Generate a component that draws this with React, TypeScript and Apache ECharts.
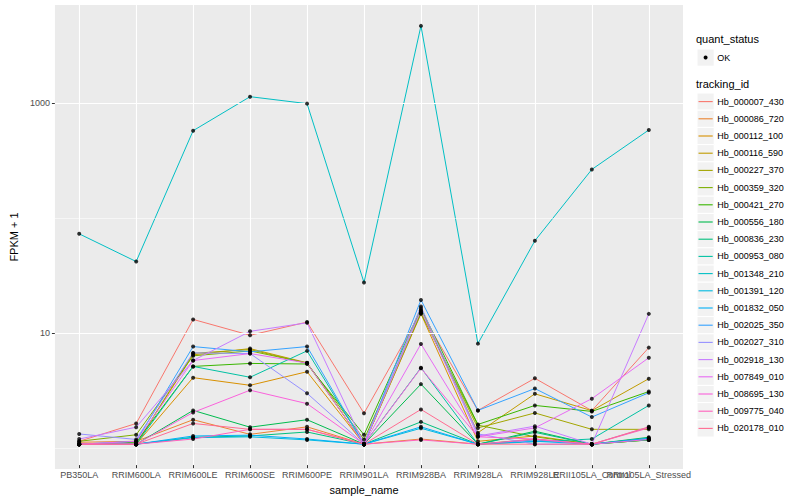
import React, { useEffect, useRef } from "react";
import * as echarts from "echarts";

const samples = [
  "PB350LA", "RRIM600LA", "RRIM600LE", "RRIM600SE", "RRIM600PE", "RRIM901LA",
  "RRIM928BA", "RRIM928LA", "RRIM928LE", "RRII105LA_Control", "RRII105LA_Stressed",
];

const trackingIds = [
  "Hb_000007_430", "Hb_000086_720", "Hb_000112_100", "Hb_000116_590", "Hb_000227_370",
  "Hb_000359_320", "Hb_000421_270", "Hb_000556_180", "Hb_000836_230", "Hb_000953_080",
  "Hb_001348_210", "Hb_001391_120", "Hb_001832_050", "Hb_002025_350", "Hb_002027_310",
  "Hb_002918_130", "Hb_007849_010", "Hb_008695_130", "Hb_009775_040", "Hb_020178_010",
];

const colors = [
  "#F8766D", "#EA8331", "#D89000", "#C09B00", "#A3A500",
  "#7CAE00", "#39B600", "#00BB4E", "#00BF7D", "#00C1A3",
  "#00BFC4", "#00BAE0", "#00B0F6", "#35A2FF", "#9590FF",
  "#C77CFF", "#E76BF3", "#FA62DB", "#FF62BC", "#FF6C91",
];

// FPKM + 1 per sample (same order as samples)
const hb000007 = [1.06, 1.52, 12.47, 9.05, 11.81, 1.87, 14.44, 1.98, 3.79, 1.97, 7.05];
const hb000086 = [1.04, 1.06, 1.64, 1.22, 1.42, 1.0, 1.11, 1.0, 1.11, 1.0, 1.13];
const hb000112 = [1.0, 1.0, 3.84, 3.29, 4.33, 1.0, 13.95, 1.06, 1.18, 1.0, 1.09];
const hb000116 = [1.0, 1.0, 6.09, 6.91, 5.19, 1.0, 14.94, 1.26, 2.77, 1.97, 3.76];
const hb000227 = [1.0, 1.0, 6.28, 6.78, 5.14, 1.0, 14.29, 1.39, 1.88, 1.35, 1.35];
const hb000359 = [1.06, 1.21, 5.97, 6.6, 5.16, 1.1, 14.15, 1.47, 1.16, 1.0, 1.09];
const hb000421 = [1.0, 1.04, 4.82, 5.12, 5.06, 1.21, 15.64, 1.49, 2.19, 1.94, 2.9];
const hb000556 = [1.0, 1.0, 1.98, 1.41, 1.64, 1.0, 3.37, 1.0, 1.3, 1.0, 1.15];
const hb000836 = [1.0, 1.0, 1.15, 1.18, 1.28, 1.0, 1.57, 1.0, 1.27, 1.0, 1.09];
const hb000953 = [1.0, 1.0, 4.82, 3.87, 6.6, 1.0, 4.69, 1.0, 1.05, 1.11, 2.19];
const hb001348 = [70.4, 40.2, 567, 1128, 980, 26.3, 4722, 7.64, 61.2, 259, 575];
const hb001391 = [1.0, 1.0, 1.14, 1.16, 1.09, 1.0, 1.38, 1.0, 1.09, 1.0, 1.11];
const hb001832 = [1.0, 1.0, 1.18, 1.2, 1.11, 1.0, 1.42, 1.0, 1.06, 1.0, 1.13];
const hb002025 = [1.0, 1.06, 7.2, 6.47, 7.2, 1.0, 18.48, 1.98, 3.08, 1.73, 2.83];
const hb002027 = [1.23, 1.1, 6.34, 6.25, 2.8, 1.0, 16.18, 1.23, 1.0, 1.0, 1.41];
const hb002918 = [1.11, 1.41, 5.43, 9.8, 11.65, 1.0, 14.94, 1.18, 1.44, 1.0, 13.95];
const hb007849 = [1.0, 1.06, 5.43, 6.25, 5.16, 1.0, 7.6, 1.16, 1.39, 2.51, 5.74];
const hb008695 = [1.0, 1.0, 1.9, 2.98, 2.27, 1.0, 4.65, 1.16, 1.11, 1.0, 1.1];
const hb009775 = [1.0, 1.0, 1.11, 1.35, 1.35, 1.0, 1.09, 1.0, 1.1, 1.0, 1.39];
const hb020178 = [1.0, 1.0, 1.52, 1.35, 1.35, 1.0, 2.02, 1.0, 1.0, 1.0, 1.42];

const seriesValues = [
  hb000007, hb000086, hb000112, hb000116, hb000227, hb000359, hb000421, hb000556,
  hb000836, hb000953, hb001348, hb001391, hb001832, hb002025, hb002027, hb002918,
  hb007849, hb008695, hb009775, hb020178,
];

const yTickLabels = [10, 1000];
const yMajorGrid = [10, 1000];
const yMinorGrid = [1, 100];
const Y_MIN = 0.655;
const Y_MAX = 7204;
const quantStatus = ["OK"];

export default function App() {
  const ref = useRef<HTMLDivElement>(null);

  useEffect(() => {
    if (!ref.current) return;
    const chart = echarts.init(ref.current, null, { renderer: "svg" });
    const font = "'Liberation Sans', Arial, Helvetica, sans-serif";

    const lineSeries = trackingIds.map((name, i) => ({
      type: "line",
      name,
      xAxisIndex: 1,
      yAxisIndex: 1,
      data: seriesValues[i],
      symbol: "none",
      silent: true,
      z: 2,
      lineStyle: { color: colors[i], width: 1 },
      itemStyle: { color: colors[i] },
    }));

    const pointData: [number, number][] = [];
    seriesValues.forEach((vals) => vals.forEach((v, j) => pointData.push([j, v])));

    // legend built from names/colors
    const legendX = 697;
    const keySize = 17.2;
    const firstKeyTop = 93;
    const legendEls: any[] = [
      {
        type: "text",
        left: 696,
        top: 33,
        style: { text: "quant_status", font: `11px ${font}`, fill: "#000" },
      },
      ...quantStatus.flatMap((q, i) => [
        {
          type: "rect",
          shape: { x: legendX, y: 49 + i * keySize, width: keySize, height: keySize },
          style: { fill: "#F2F2F2", stroke: "#FFFFFF", lineWidth: 1 },
        },
        {
          type: "circle",
          shape: { cx: legendX + keySize / 2, cy: 49 + i * keySize + keySize / 2, r: 2 },
          style: { fill: "#000" },
        },
        {
          type: "text",
          x: legendX + keySize + 3,
          y: 49 + i * keySize + keySize / 2,
          style: { text: q, font: `9px ${font}`, fill: "#000", textVerticalAlign: "middle" },
        },
      ]),
      {
        type: "text",
        left: 696,
        top: 78,
        style: { text: "tracking_id", font: `11px ${font}`, fill: "#000" },
      },
      ...trackingIds.flatMap((name, i) => {
        const top = firstKeyTop + i * keySize;
        return [
          {
            type: "rect",
            shape: { x: legendX, y: top, width: keySize, height: keySize },
            style: { fill: "#F2F2F2", stroke: "#FFFFFF", lineWidth: 1 },
          },
          {
            type: "line",
            shape: { x1: legendX + 1.5, y1: top + keySize / 2, x2: legendX + keySize - 1.5, y2: top + keySize / 2 },
            style: { stroke: colors[i], lineWidth: 1.1 },
          },
          {
            type: "text",
            x: legendX + keySize + 3,
            y: top + keySize / 2,
            style: { text: name, font: `9px ${font}`, fill: "#000", textVerticalAlign: "middle" },
          },
        ];
      }),
    ];

    const option: any = {
      animation: false,
      backgroundColor: "#FFFFFF",
      textStyle: { fontFamily: font },
      grid: [
        {
          left: 45, right: 117, top: 5, bottom: 31,
          show: true, backgroundColor: "#EBEBEB", borderWidth: 0,
        },
        { left: 79.2, right: 151.2, top: 5, bottom: 31 },
      ],
      xAxis: [
        { gridIndex: 0, type: "value", min: 0, max: 1, show: false },
        {
          gridIndex: 1,
          type: "category",
          data: samples,
          boundaryGap: false,
          axisLine: { show: false },
          axisTick: { show: true, length: 3, lineStyle: { color: "#333333", width: 1 } },
          axisLabel: {
            interval: 0, hideOverlap: false, margin: 5,
            color: "#4D4D4D", fontSize: 9, fontFamily: font,
          },
          splitLine: { show: true, lineStyle: { color: "#FFFFFF", width: 1.1 } },
          name: "sample_name",
          nameLocation: "middle",
          nameGap: 15,
          nameTextStyle: { color: "#000", fontSize: 11, fontFamily: font },
        },
      ],
      yAxis: [
        {
          gridIndex: 0,
          type: "log",
          logBase: 10,
          min: Y_MIN,
          max: Y_MAX,
          axisLine: { show: false },
          axisTick: {
            show: true, length: 3, customValues: yTickLabels,
            lineStyle: { color: "#333333", width: 1 },
          },
          axisLabel: {
            show: true, customValues: yTickLabels, margin: 5,
            color: "#4D4D4D", fontSize: 9, fontFamily: font,
            formatter: (v: number) =>
              yTickLabels.some((t) => Math.abs(v - t) / t < 1e-6) ? String(Math.round(v)) : "",
          },
          splitLine: { show: false },
          name: "FPKM + 1",
          nameLocation: "middle",
          nameGap: 26,
          nameTextStyle: { color: "#000", fontSize: 11, fontFamily: font },
        },
        {
          gridIndex: 1,
          type: "log",
          logBase: 10,
          min: Y_MIN,
          max: Y_MAX,
          show: false,
          splitLine: { show: false },
        },
      ],
      graphic: legendEls,
      series: [
        {
          type: "line",
          name: "grid",
          xAxisIndex: 0,
          yAxisIndex: 0,
          data: [[0.5, 1]],
          symbol: "none",
          silent: true,
          z: 1,
          lineStyle: { opacity: 0 },
          markLine: {
            silent: true,
            symbol: ["none", "none"],
            label: { show: false },
            animation: false,
            data: [
              ...yMajorGrid.map((v) => ({ yAxis: v, lineStyle: { color: "#FFFFFF", width: 1.1, type: "solid" } })),
              ...yMinorGrid.map((v) => ({ yAxis: v, lineStyle: { color: "#FFFFFF", width: 0.55, type: "solid" } })),
            ],
          },
        },
        ...lineSeries,
        {
          type: "scatter",
          name: "points",
          xAxisIndex: 1,
          yAxisIndex: 1,
          data: pointData,
          symbol: "circle",
          symbolSize: 4,
          silent: true,
          z: 5,
          itemStyle: { color: "#000000" },
        },
      ],
    };

    chart.setOption(option);
    return () => chart.dispose();
  }, []);

  return (
    <div
      ref={ref}
      style={{ position: "fixed", left: 0, top: 0, width: 800, height: 500 }}
    />
  );
}
